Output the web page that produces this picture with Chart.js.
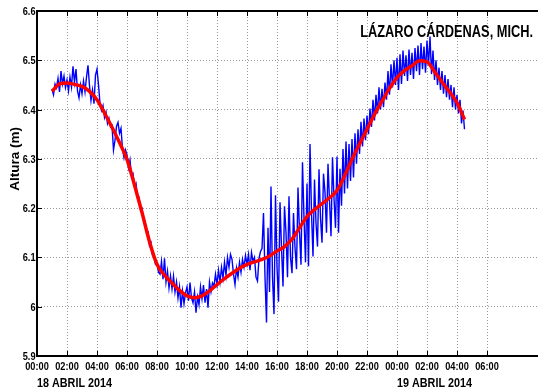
<!DOCTYPE html>
<html>
<head>
<meta charset="utf-8">
<script src="https://cdn.jsdelivr.net/npm/chart.js@4.4.0/dist/chart.umd.min.js"></script>
<style>
  html, body { margin: 0; padding: 0; background: #fff; overflow: hidden; }
  #wrap { width: 538px; height: 391px; position: relative; }
</style>
</head>
<body>
<div id="wrap"><canvas id="c" width="538" height="391"></canvas></div>
<script>
// Sea level at Lázaro Cárdenas tide gauge, 18-19 April 2014 (hours from 00:00 on the 18th)
const STATION = 'LÁZARO CÁRDENAS, MICH.';
const Y_TITLE = 'Altura (m)';
const DAY_LABELS = ['18 ABRIL 2014', '19 ABRIL 2014'];
const DAY_STARTS = [0, 24];

const X_TICK_HOURS = [0, 2, 4, 6, 8, 10, 12, 14, 16, 18, 20, 22, 24, 26, 28, 30];
const X_TICK_LABELS = ['00:00', '02:00', '04:00', '06:00', '08:00', '10:00', '12:00', '14:00',
                       '16:00', '18:00', '20:00', '22:00', '00:00', '02:00', '04:00', '06:00'];
const Y_TICKS = [5.9, 6.0, 6.1, 6.2, 6.3, 6.4, 6.5, 6.6];
const Y_TICK_LABELS = ['5.9', '6', '6.1', '6.2', '6.3', '6.4', '6.5', '6.6'];

// Observed level, one reading every 6 minutes starting at 01:00
const OBS_START = 1.0;
const OBS_STEP = 0.1;
const observed = [
  6.441, 6.430, 6.452, 6.444, 6.463, 6.436, 6.478, 6.452, 6.468, 6.445,
  6.460, 6.438, 6.466, 6.446, 6.488, 6.455, 6.482, 6.438, 6.424, 6.450,
  6.432, 6.458, 6.436, 6.466, 6.490, 6.448, 6.418, 6.440, 6.412, 6.470,
  6.482, 6.450, 6.412, 6.398, 6.408, 6.384, 6.395, 6.372, 6.382, 6.365,
  6.368, 6.318, 6.338, 6.366, 6.374, 6.352, 6.362, 6.320, 6.302, 6.318,
  6.308, 6.282, 6.298, 6.266, 6.270, 6.244, 6.250, 6.222, 6.222, 6.198,
  6.200, 6.176, 6.174, 6.152, 6.152, 6.124, 6.130, 6.104, 6.102, 6.086,
  6.088, 6.070, 6.066, 6.092, 6.056, 6.098, 6.050, 6.072, 6.038, 6.062,
  6.036, 6.062, 6.030, 6.050, 6.018, 6.040, 5.998, 6.032, 6.006, 6.028,
  6.040, 6.012, 6.049, 6.018, 6.008, 6.030, 5.988, 6.020, 6.004, 6.040,
  6.016, 6.044, 6.008, 6.036, 5.998, 6.050, 6.030, 6.048, 6.042, 6.066,
  6.045, 6.074, 6.050, 6.080, 6.058, 6.090, 6.064, 6.100, 6.080, 6.106,
  6.096, 6.066, 6.045, 6.078, 6.060, 6.090, 6.070, 6.096, 6.080, 6.104,
  6.086, 6.106, 6.074, 6.110, 6.092, 6.100, 6.060, 6.052, 6.098, 6.112,
  6.118, 6.190, 6.060, 5.968, 6.160, 6.030, 6.244, 6.060, 5.985, 6.226,
  6.080, 6.010, 6.212, 6.120, 6.041, 6.204, 6.150, 6.060, 6.224, 6.100,
  6.068, 6.190, 6.120, 6.076, 6.242, 6.150, 6.085, 6.293, 6.180, 6.090,
  6.250, 6.082, 6.330, 6.190, 6.102, 6.258, 6.170, 6.122, 6.279, 6.180,
  6.130, 6.270, 6.232, 6.150, 6.290, 6.215, 6.143, 6.303, 6.220, 6.160,
  6.305, 6.150, 6.280, 6.205, 6.320, 6.230, 6.335, 6.240, 6.330, 6.255,
  6.340, 6.262, 6.352, 6.290, 6.360, 6.310, 6.375, 6.325, 6.382, 6.338,
  6.388, 6.350, 6.402, 6.365, 6.420, 6.378, 6.430, 6.392, 6.445, 6.400,
  6.442, 6.405, 6.455, 6.420, 6.478, 6.430, 6.492, 6.445, 6.500, 6.450,
  6.505, 6.440, 6.512, 6.452, 6.520, 6.468, 6.510, 6.458, 6.522, 6.470,
  6.515, 6.462, 6.525, 6.478, 6.530, 6.470, 6.535, 6.482, 6.528, 6.475,
  6.540, 6.490, 6.548, 6.472, 6.520, 6.460, 6.500, 6.450, 6.485, 6.440,
  6.478, 6.432, 6.470, 6.425, 6.462, 6.420, 6.450, 6.405, 6.445, 6.400,
  6.430, 6.392, 6.420, 6.372, 6.398, 6.360
];

// Filtered (tidal) level, every 30 minutes starting at 01:00
const FILT_START = 1.0;
const FILT_STEP = 0.5;
const filtered = [
  6.437, 6.452, 6.454, 6.451, 6.447, 6.437, 6.420, 6.393, 6.364, 6.333,
  6.299, 6.247, 6.191, 6.132, 6.086, 6.064, 6.048, 6.033, 6.022, 6.018,
  6.022, 6.032, 6.045, 6.057, 6.068, 6.078, 6.086, 6.091, 6.096, 6.103,
  6.113, 6.122, 6.137, 6.160, 6.183, 6.197, 6.209, 6.221, 6.236, 6.265,
  6.299, 6.330, 6.360, 6.390, 6.417, 6.443, 6.465, 6.479, 6.489, 6.499,
  6.497, 6.477, 6.456, 6.436, 6.414, 6.380
];

const FONT = "'Liberation Sans', Arial, Helvetica, sans-serif";
const NARROW = 0.8;   // horizontal squeeze for the condensed lettering

const toPoints = (values, start, step) => values.map((v, i) => ({ x: start + i * step, y: v }));

function narrowText(ctx, text, x, y, size, align) {
  ctx.save();
  ctx.translate(x, y);
  ctx.scale(NARROW, 1);
  ctx.font = 'bold ' + size + 'px ' + FONT;
  ctx.textAlign = align;
  ctx.textBaseline = 'alphabetic';
  ctx.fillText(text, 0, 0);
  ctx.restore();
}

// Top frame line, inward tick marks, tick labels, captions and station name
const frameAndLabels = {
  id: 'frameAndLabels',
  afterDraw(chart) {
    const { ctx, chartArea: a, scales: { x, y } } = chart;
    ctx.save();
    ctx.strokeStyle = '#000';
    ctx.lineWidth = 2;
    ctx.beginPath();
    ctx.moveTo(a.left, a.top);
    ctx.lineTo(a.right, a.top);
    ctx.stroke();

    ctx.lineWidth = 1;
    ctx.beginPath();
    X_TICK_HOURS.forEach(h => {
      const px = Math.round(x.getPixelForValue(h)) + 0.5;
      ctx.moveTo(px, a.bottom); ctx.lineTo(px, a.bottom - 5);
      ctx.moveTo(px, a.top); ctx.lineTo(px, a.top + 5);
    });
    Y_TICKS.forEach(v => {
      const py = Math.round(y.getPixelForValue(v)) + 0.5;
      ctx.moveTo(a.left, py); ctx.lineTo(a.left + 5, py);
    });
    ctx.stroke();

    ctx.fillStyle = '#000';
    X_TICK_HOURS.forEach((h, i) => narrowText(ctx, X_TICK_LABELS[i], x.getPixelForValue(h), a.bottom + 14, 11.5, 'center'));
    Y_TICKS.forEach((v, i) => narrowText(ctx, Y_TICK_LABELS[i], a.left - 1.5, y.getPixelForValue(v) + 4, 11.5, 'right'));
    DAY_LABELS.forEach((t, i) => narrowText(ctx, t, x.getPixelForValue(DAY_STARTS[i]), 386.5, 13.5, 'left'));
    narrowText(ctx, STATION, a.right - 5, 37, 16, 'right');

    // vertical axis title, level with the 6.3 m line
    ctx.save();
    ctx.translate(19, y.getPixelForValue(6.3));
    ctx.rotate(-Math.PI / 2);
    ctx.font = 'bold 13.5px ' + FONT;
    ctx.textAlign = 'center';
    ctx.textBaseline = 'alphabetic';
    ctx.fillText(Y_TITLE, 0, 0);
    ctx.restore();

    ctx.restore();
  }
};

new Chart(document.getElementById('c'), {
  type: 'line',
  data: {
    datasets: [
      {
        label: 'Filtrado',
        data: toPoints(filtered, FILT_START, FILT_STEP),
        borderColor: '#ff0000',
        borderWidth: 3.5,
        pointRadius: 0,
        cubicInterpolationMode: 'monotone',
        fill: false
      },
      {
        label: 'Observado',
        data: toPoints(observed, OBS_START, OBS_STEP),
        borderColor: '#0000ff',
        borderWidth: 1.4,
        pointRadius: 0,
        tension: 0,
        fill: false
      }
    ]
  },
  options: {
    responsive: false,
    animation: false,
    devicePixelRatio: 1,
    layout: { padding: { top: 11, left: 0, right: 0, bottom: 0 } },
    plugins: { legend: { display: false }, tooltip: { enabled: false } },
    scales: {
      x: {
        type: 'linear',
        min: 0,
        max: 33.4,
        afterBuildTicks: s => { s.ticks = X_TICK_HOURS.map(v => ({ value: v })); },
        afterFit: s => { s.height = 35; },
        ticks: { display: false },
        grid: { color: 'rgba(0,0,0,0.4)', lineWidth: 1, drawTicks: false },
        border: { display: true, color: '#000', width: 2, dash: [1, 2] }
      },
      y: {
        type: 'linear',
        min: 5.9,
        max: 6.6,
        afterBuildTicks: s => { s.ticks = Y_TICKS.map(v => ({ value: v })); },
        afterFit: s => { s.width = 37; },
        ticks: { display: false },
        grid: { color: 'rgba(0,0,0,0.4)', lineWidth: 1, drawTicks: false },
        border: { display: true, color: '#000', width: 2, dash: [1, 2] }
      }
    }
  },
  plugins: [frameAndLabels]
});
</script>
</body>
</html>
